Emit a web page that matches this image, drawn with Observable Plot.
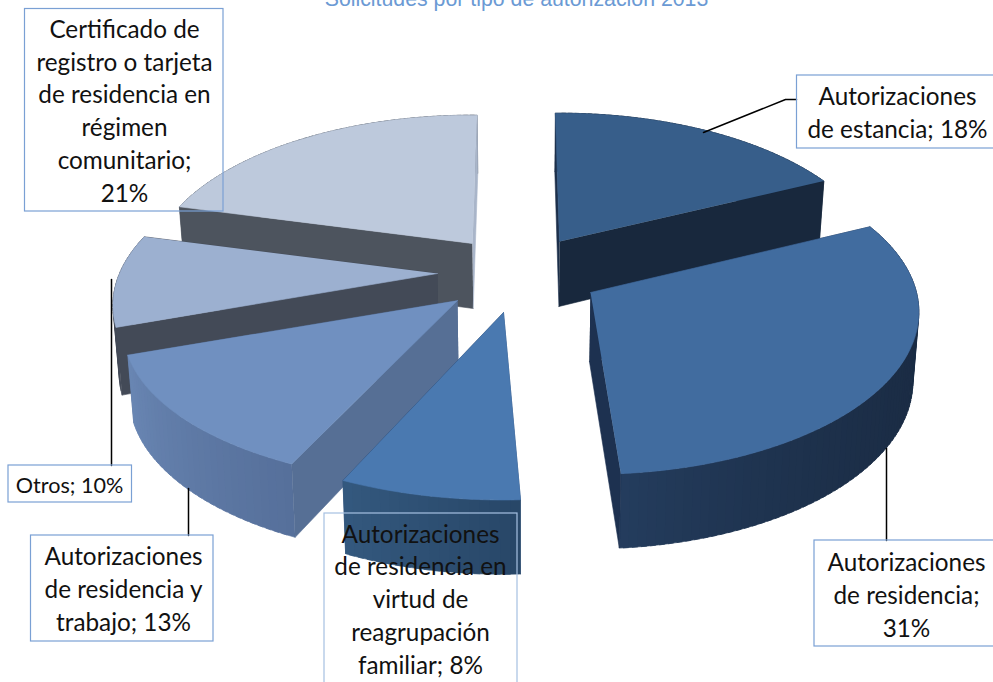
<!DOCTYPE html>
<html><head><meta charset="utf-8">
<style>html,body{margin:0;padding:0;background:#fff;overflow:hidden}svg{display:block}</style>
<script src="https://cdn.jsdelivr.net/npm/d3@7"></script>
<script src="https://cdn.jsdelivr.net/npm/@observablehq/plot@0.6"></script>
</head><body><div id="chart"></div>
<script>
const titleText = "Solicitudes por tipo de autorización 2013";
const categories = ["Autorizaciones de estancia","Autorizaciones de residencia","Autorizaciones de residencia en virtud de reagrupación familiar","Autorizaciones de residencia y trabajo","Otros","Certificado de registro o tarjeta de residencia en régimen comunitario"];
const shares = [18,31,8,13,10,21];
const labelLines = [
  "Autorizaciones\nde estancia; 18%",
  "Autorizaciones\nde residencia;\n31%",
  "Autorizaciones\nde residencia en\nvirtud de\nreagrupación\nfamiliar; 8%",
  "Autorizaciones\nde residencia y\ntrabajo; 13%",
  "Otros; 10%",
  "Certificado de\nregistro o tarjeta\nde residencia en\nrégimen\ncomunitario;\n21%"
];
// styling, by slice
const topColors = ["#375e8a","#416c9f","#4a79b0","#7090c0","#9cb0d0","#bdc9dc"];
const startWall = ["#1c2f4a","#1b2c44","#2d4e78","#566f95","#434a57","#4d545e"];
const endWall   = ["#18283d","#1d3150","#2d4e78","#566f95","#434a57","#a9b5c9"];
const rimFrom   = ["#18283d","#1a2b43","#284768","#56709b","#434a57","#4d545e"];
const rimTo     = ["#18283d","#243d5e","#34597f","#6a87b4","#434a57","#4d545e"];
const rimPower  = [1,3,1,1,1,1];
const labelSize = [24.3,24.3,24.3,24.3,21.6,24.3];
// which radial wall faces the viewer, by slice
const startFaces = [true,false,false,true,true,true];
const endFaces = [true,true,false,false,false,true];
// layout: explosion centres, projected radii, perspective, edge nudges (deg), label boxes, leaders
const centres = [[559,241],[590,292],[503,312],[457,300],[437,273],[472,243]];
const radiusX = [317,326,325,327,318,318];
const radiusY = [154,160,150,147,154,154];
const perspective = [0.2,0.12,0.2,0.2,0.2,0.2];
const depth = [65,69,65,65,65,65];
const nudgeStart = [-0.9,-0.4,1.2,-0.7,-1.1,-3.5];
const nudgeEnd = [0,-1.1,-1.4,-2.2,-3.5,-2.6];
const boxes = [[796.5,1000,75,148],[814,1000,540,646],[324,517,513,700],[30.5,213,535,641],[8,131.5,465,502],[24.5,223,8.5,211]];
const boxStroke = ["#7aa0d4","#7aa0d4","#a6c0e2","#7aa0d4","#7aa0d4","#7aa0d4"];
const labelX = [897,906,420,123,69,124];
const labelBaseline = [137,636,673,630,492,201];
const leaders = [[[703,132],[785,99],[796,99]],[[886,448],[886,540]],[[188,488],[188,535]],[[111,279],[111,465]]];

const VX=520,SQ=0.985,RAD=Math.PI/180;
const cum=d3.cumsum(shares);
const ang=i=>[((i?cum[i-1]:0)*3.6+nudgeStart[i])*RAD,(cum[i]*3.6+nudgeEnd[i])*RAD];
function rimPt(i,t){const c=centres[i];const s=1/(1+perspective[i]*Math.cos(t));return {x:c[0]+radiusX[i]*Math.sin(t)*s,y:c[1]-radiusY[i]*Math.cos(t)*s,s};}
function lowOf(i,p){return {x:VX+(p.x-VX)*SQ,y:p.y+depth[i]*Math.pow(p.s,0.6)};}
const low=(i,t)=>lowOf(i,rimPt(i,t));
let pid=0;
const rows=[];
function add(pts,color){const z=pid++;for(const p of pts)rows.push({x:p.x,y:p.y,z,color});}
const order=[5,4,3,0,1,2];
for(const i of order){
  const c=centres[i],[a0,a1]=ang(i);
  const apex={x:c[0],y:c[1]},al=lowOf(i,{x:c[0],y:c[1],s:1});
  const n=Math.max(6,Math.round((a1-a0)/0.025));
  const mix=d3.interpolateRgb(rimFrom[i],rimTo[i]);
  const wallA=[apex,rimPt(i,a0),low(i,a0),al], wallB=[apex,rimPt(i,a1),low(i,a1),al];
  if(!startFaces[i]) add(wallA,startWall[i]);
  if(!endFaces[i]) add(wallB,endWall[i]);
  for(let j=0;j<n;j++){
    const t0=a0+(a1-a0)*j/n,tt=Math.min(a0+(a1-a0)*(j+1.6)/n,a1);
    add([rimPt(i,t0),rimPt(i,tt),low(i,tt),low(i,t0)],mix(Math.pow(j/n,rimPower[i])));
  }
  if(startFaces[i]) add(wallA,startWall[i]);
  if(endFaces[i]) add(wallB,endWall[i]);
  const face=[apex];
  for(let j=0;j<=n;j++)face.push(rimPt(i,a0+(a1-a0)*j/n));
  add(face,topColors[i]);
}
const leaderRows=leaders.flatMap((l,k)=>l.map(p=>({x:p[0],y:p[1],k})));
const labels=labelLines.map((t,i)=>({t,x:labelX[i],y:labelBaseline[i],b:boxes[i],st:boxStroke[i],size:labelSize[i]}));
const bigLabels=labels.filter(d=>d.size>22), smallLabels=labels.filter(d=>d.size<=22);
const textOpts=(size)=>({x:"x",y:"y",text:"t",fontFamily:"Lato",fontSize:size,lineHeight:32.7/size,lineAnchor:"bottom",textAnchor:"middle",fill:"#111"});
const plot=Plot.plot({
  width:993,height:682,margin:0,
  x:{domain:[0,993],range:[0,993],axis:null},
  y:{domain:[0,682],range:[0,682],axis:null},
  color:{type:"identity"},
  marks:[
    Plot.line(rows,{x:"x",y:"y",z:"z",fill:"color",stroke:"color",strokeWidth:0.6,curve:"linear"}),
    Plot.line(leaderRows,{x:"x",y:"y",z:"k",stroke:"#000",strokeWidth:1.5}),
    Plot.rect(labels,{x1:d=>d.b[0],x2:d=>d.b[1],y1:d=>d.b[2],y2:d=>d.b[3],fill:"none",stroke:"st",strokeWidth:1.2,inset:0}),
    Plot.text(bigLabels,textOpts(24.3)),
    Plot.text(smallLabels,textOpts(21.6)),
    Plot.text([titleText],{x:()=>516,y:()=>5,text:d=>d,fontFamily:"Liberation Sans",fontSize:21.3,lineAnchor:"bottom",textAnchor:"middle",fill:"#6b9ad4"})
  ]
});
document.getElementById("chart").append(plot);
</script></body></html>
